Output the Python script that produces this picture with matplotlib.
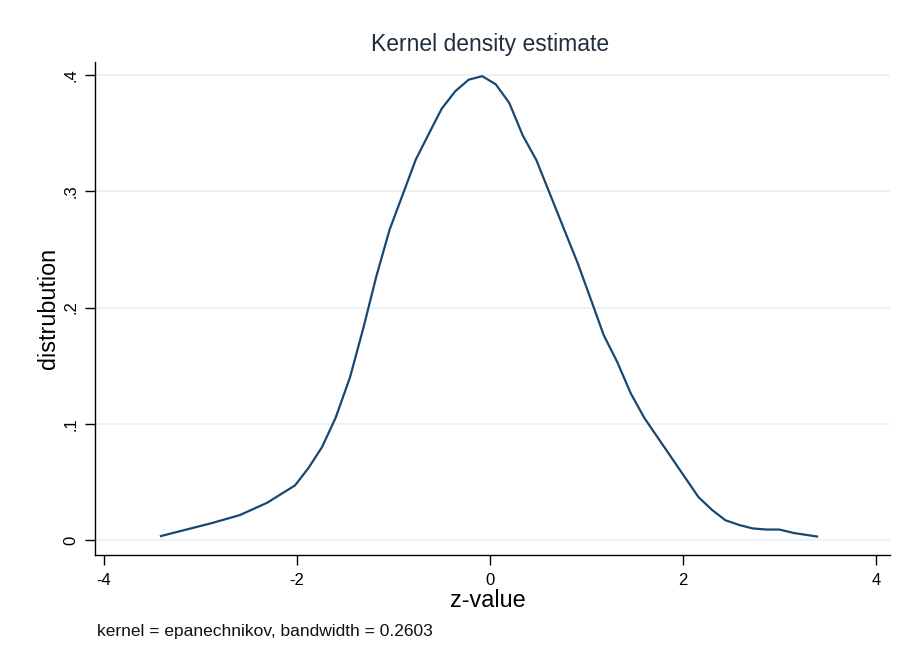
import matplotlib
matplotlib.use("Agg")
import matplotlib.pyplot as plt

# kernel density estimate points
z_values = [-3.41, -2.88, -2.59, -2.31, -2.02, -1.88, -1.74, -1.60, -1.45, -1.31,
            -1.18, -1.04, -0.90, -0.77, -0.63, -0.50, -0.36, -0.22, -0.08, 0.06,
            0.20, 0.34, 0.48, 0.62, 0.76, 0.91, 1.05, 1.18, 1.32, 1.46,
            1.60, 1.74, 1.88, 2.02, 2.16, 2.30, 2.44, 2.58, 2.72, 2.86,
            3.00, 3.15, 3.39]
density = [0.0034, 0.0146, 0.0215, 0.032, 0.047, 0.062, 0.080, 0.105, 0.140, 0.183,
           0.226, 0.267, 0.298, 0.327, 0.350, 0.371, 0.386, 0.396, 0.399, 0.392,
           0.376, 0.348, 0.327, 0.298, 0.269, 0.238, 0.206, 0.176, 0.153, 0.126,
           0.105, 0.088, 0.071, 0.054, 0.037, 0.026, 0.017, 0.013, 0.010, 0.009,
           0.009, 0.006, 0.003]

x_ticks = [-4, -2, 0, 2, 4]
y_ticks = [0, 0.1, 0.2, 0.3, 0.4]
y_tick_labels = ["0", ".1", ".2", ".3", ".4"]

plt.rcParams['font.family'] = ['Liberation Sans', 'DejaVu Sans']
plt.rcParams['axes.unicode_minus'] = False

fig = plt.figure(figsize=(8.98, 6.63), dpi=100)
ax = fig.add_axes([0.1058, 0.1629, 0.8852, 0.7436])

ax.plot(z_values, density, color='#1a476f', linewidth=1.6)

ax.set_xlim(-4.093, 4.145)
ax.set_ylim(-0.0129, 0.4112)
ax.set_xticks(x_ticks)
ax.set_yticks(y_ticks)
ax.set_yticklabels(y_tick_labels, rotation=90, va='center')
ax.tick_params(axis='both', labelsize=12, length=7, width=1, direction='out', color='black')
ax.tick_params(axis='y', pad=5)
ax.tick_params(axis='x', pad=6)

ax.grid(True, axis='y', color='#eaf0f4', linewidth=1.2)
ax.set_axisbelow(True)
for side in ['top', 'right']:
    ax.spines[side].set_visible(False)
for side in ['left', 'bottom']:
    ax.spines[side].set_linewidth(1)

fig.text(0.5457, 0.9336, "Kernel density estimate", fontsize=16.5,
         color='#1f2f40', ha='center', va='center')
ax.set_xlabel("z-value", fontsize=16.8, va='center')
ax.xaxis.set_label_coords(0.4937, -0.0933)
ax.set_ylabel("distrubution", fontsize=16.8, va='center')
ax.yaxis.set_label_coords(-0.0591, 0.5)

fig.text(0.108, 0.047, "kernel = epanechnikov, bandwidth = 0.2603", fontsize=12.5,
         va='center', color='#111111')

fig.savefig("out.png", dpi=100, facecolor='white')
